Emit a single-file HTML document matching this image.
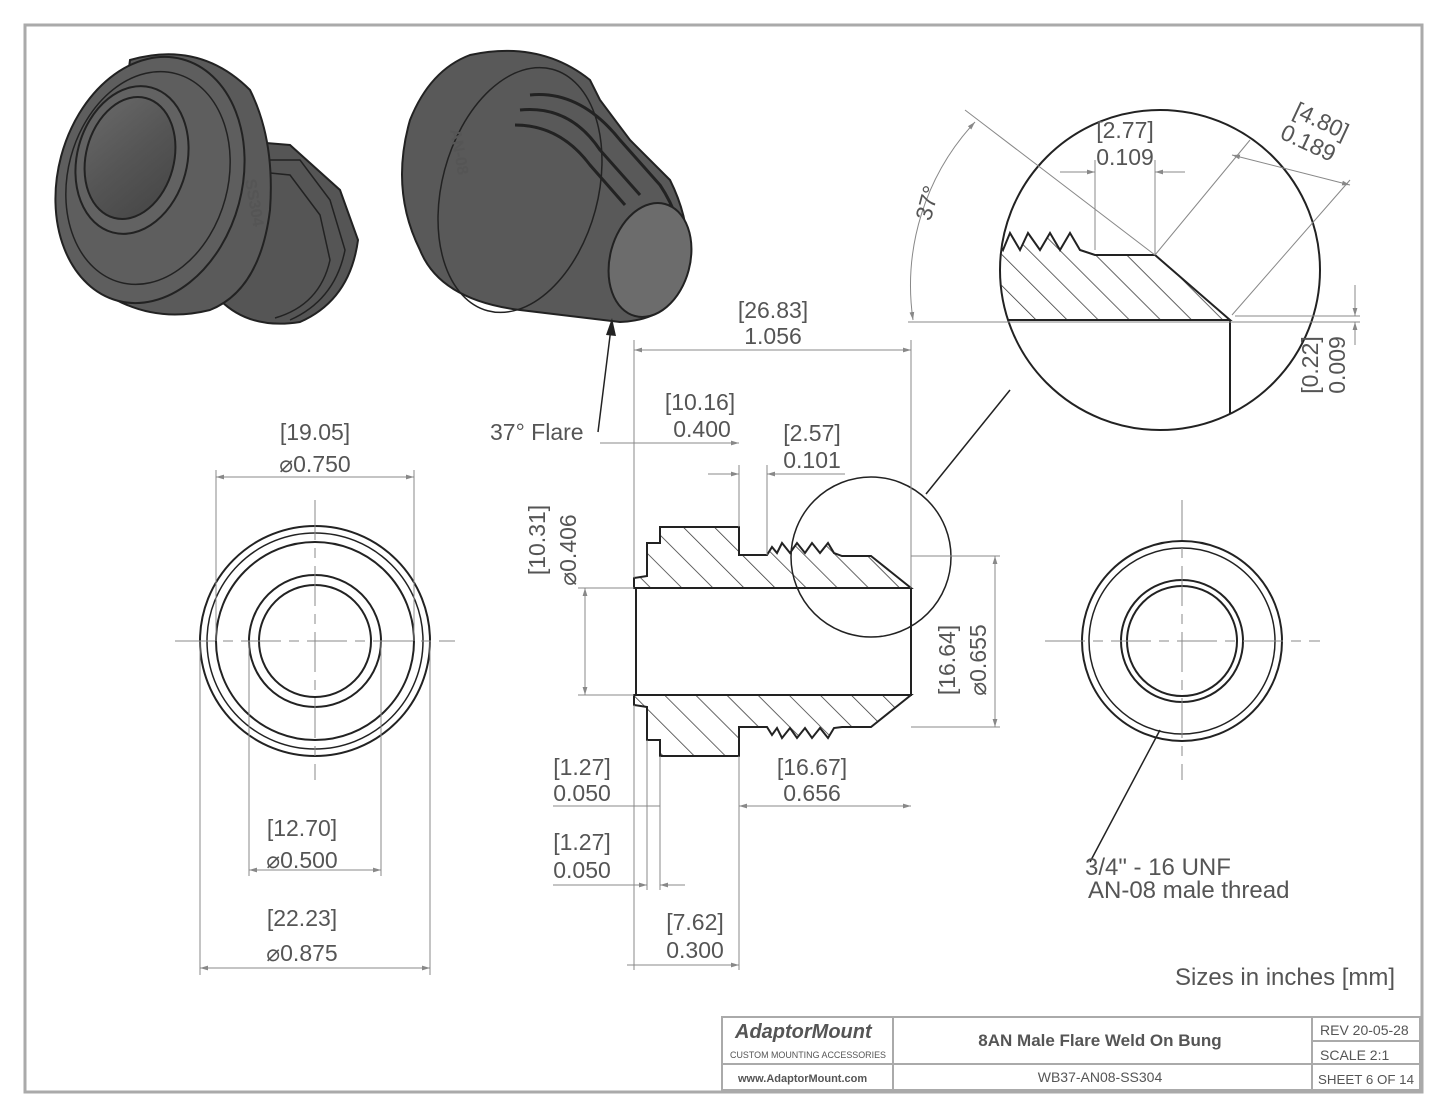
<!DOCTYPE html>
<html><head><meta charset="utf-8"><style>
body{margin:0;background:#fff}
svg{display:block}
text{font-family:"Liberation Sans",sans-serif;fill:#555}
.d{stroke:#888;stroke-width:1;fill:none}
.k{stroke:#222;stroke-width:2;fill:none}
.t{font-size:23px;text-anchor:middle}
</style></head><body>
<svg width="1445" height="1117" viewBox="0 0 1445 1117">
<defs>
<linearGradient id="g" x1="0" x2="1" y1="0" y2="1"><stop offset="0" stop-color="#6a6a6a"/><stop offset=".5" stop-color="#555"/><stop offset="1" stop-color="#444"/></linearGradient>
<marker id="a" viewBox="0 0 10 10" refX="10" refY="5" markerWidth="8" markerHeight="8" orient="auto-start-reverse"><path d="M0,2L10,5L0,8z" fill="#888"/></marker>
<pattern id="h" width="22" height="22" patternUnits="userSpaceOnUse" patternTransform="rotate(-45)"><line x1="0" y1="0" x2="0" y2="22" stroke="#333" stroke-width="1.5"/></pattern>
</defs>
<rect x="25" y="25" width="1397" height="1067" fill="none" stroke="#aaa" stroke-width="3"/>
<!-- 3D part left -->
<g stroke="#222" stroke-width="2">
<path d="M230,140 L290,145 L340,190 L358,240 Q350,300 300,322 Q250,330 220,300z" fill="#555"/>
<path d="M250,160 L300,160 L330,200 L345,250 Q335,300 290,320" fill="none" stroke-width="1.5"/>
<path d="M240,170 L290,175 L320,215 L330,260 Q320,305 275,318" fill="none" stroke-width="1.5"/>
<path d="M130,60 Q200,40 250,90 Q275,140 270,210 Q260,290 210,310 Q150,325 100,290 Z" fill="#5a5a5a"/>
<ellipse cx="150" cy="180" rx="92" ry="125" transform="rotate(15 150 180)" fill="#5e5e5e"/>
<ellipse cx="148" cy="178" rx="80" ry="108" transform="rotate(15 148 178)" fill="none" stroke-width="1.5"/>
<ellipse cx="132" cy="160" rx="55" ry="75" transform="rotate(15 132 160)" fill="#626262"/>
<ellipse cx="130" cy="158" rx="44" ry="62" transform="rotate(15 130 158)" fill="url(#g)"/>
</g>
<text x="245" y="180" font-size="16" font-weight="bold" fill="#111" transform="rotate(80 245 180)">SS304</text>
<!-- 3D part right -->
<g stroke="#222" stroke-width="2">
<path d="M470,55 Q540,40 590,80 L600,100 L630,140 L670,180 Q695,230 685,280 Q670,320 620,322 L520,310 Q440,300 420,250 Q390,190 410,120 Q430,70 470,55z" fill="#595959"/>
<ellipse cx="520" cy="190" rx="78" ry="125" transform="rotate(15 520 190)" fill="none" stroke-width="1.5"/>
<path d="M530,95 Q580,90 620,140 L660,185 Q690,230 680,280" fill="none" stroke-width="3"/>
<path d="M520,110 Q570,105 600,150 L640,195" fill="none" stroke-width="3"/>
<path d="M515,125 Q560,125 590,165 L625,205" fill="none" stroke-width="3"/>
<ellipse cx="650" cy="260" rx="40" ry="58" transform="rotate(15 650 260)" fill="#6c6c6c"/>
</g>
<text x="450" y="130" font-size="16" font-weight="bold" fill="#111" transform="rotate(80 450 130)">AN-08</text>
<!-- left view -->
<g class="k">
<circle cx="315" cy="641" r="115"/><circle cx="315" cy="641" r="99"/><circle cx="315" cy="641" r="108" stroke-width="1.5"/>
<circle cx="315" cy="641" r="66"/><circle cx="315" cy="641" r="56"/>
</g>
<g class="d">
<line x1="175" y1="641" x2="455" y2="641" stroke-dasharray="40 8 10 8"/><line x1="315" y1="500" x2="315" y2="780" stroke-dasharray="40 8 10 8"/>
<line x1="216" y1="470" x2="216" y2="641"/><line x1="414" y1="470" x2="414" y2="641"/>
<line x1="216" y1="477" x2="414" y2="477" marker-start="url(#a)" marker-end="url(#a)"/>
<line x1="249" y1="641" x2="249" y2="876"/><line x1="381" y1="641" x2="381" y2="876"/>
<line x1="249" y1="870" x2="381" y2="870" marker-start="url(#a)" marker-end="url(#a)"/>
<line x1="200" y1="641" x2="200" y2="975"/><line x1="430" y1="641" x2="430" y2="975"/>
<line x1="200" y1="968" x2="430" y2="968" marker-start="url(#a)" marker-end="url(#a)"/>
</g>
<text class="t" x="315" y="440">[19.05]</text><text class="t" x="315" y="472">⌀0.750</text>
<text class="t" x="302" y="836">[12.70]</text><text class="t" x="302" y="868">⌀0.500</text>
<text class="t" x="302" y="926">[22.23]</text><text class="t" x="302" y="961">⌀0.875</text>
<!-- right view -->
<g class="k">
<circle cx="1182" cy="641" r="100"/><circle cx="1182" cy="641" r="93" stroke-width="1.5"/>
<circle cx="1182" cy="641" r="61"/><circle cx="1182" cy="641" r="55"/>
</g>
<g class="d"><line x1="1045" y1="641" x2="1320" y2="641" stroke-dasharray="40 8 10 8"/><line x1="1182" y1="500" x2="1182" y2="780" stroke-dasharray="40 8 10 8"/></g>
<line x1="1090" y1="862" x2="1160" y2="730" stroke="#222" stroke-width="1.5"/>
<text x="1085" y="875" font-size="24" fill="#333">3/4" - 16 UNF</text>
<text x="1088" y="898" font-size="24" fill="#333">AN-08 male thread</text>
<text x="1175" y="985" font-size="24" fill="#333">Sizes in inches [mm]</text>
<!-- section -->
<path d="M634,588 L634,578 L647,576 L647,543 L660,543 L660,527 L739,527 L739,555 L767,555 L772,547 L777,553 L782,543 L790,553 L797,543 L805,553 L812,543 L820,553 L828,543 L834,553 L842,556 L871,556 L911,588 Z" fill="url(#h)" stroke="#222" stroke-width="2"/>
<path d="M634,695 L634,705 L647,707 L647,740 L660,740 L660,756 L739,756 L739,727 L767,727 L772,735 L777,728 L782,738 L790,728 L797,738 L805,728 L812,738 L820,728 L828,738 L834,728 L842,727 L871,727 L911,695 Z" fill="url(#h)" stroke="#222" stroke-width="2"/>
<rect x="636" y="588" width="275" height="107" fill="#fff" stroke="#222" stroke-width="2"/>
<circle cx="871" cy="557" r="80" fill="none" stroke="#222" stroke-width="1.5"/>
<line x1="926" y1="494" x2="1010" y2="390" stroke="#222" stroke-width="1.5"/>
<g class="d">
<line x1="634" y1="340" x2="634" y2="578"/><line x1="911" y1="340" x2="911" y2="588"/>
<line x1="634" y1="350" x2="911" y2="350" marker-start="url(#a)" marker-end="url(#a)"/>
<line x1="600" y1="443" x2="634" y2="443"/><line x1="634" y1="443" x2="739" y2="443" marker-end="url(#a)"/>
<line x1="739" y1="465" x2="739" y2="527"/><line x1="767" y1="465" x2="767" y2="555"/>
<line x1="708" y1="474" x2="739" y2="474" marker-end="url(#a)"/><line x1="767" y1="474" x2="845" y2="474" marker-start="url(#a)"/>
<line x1="578" y1="588" x2="634" y2="588"/><line x1="578" y1="695" x2="634" y2="695"/>
<line x1="585" y1="588" x2="585" y2="695" marker-start="url(#a)" marker-end="url(#a)"/>
<line x1="911" y1="556" x2="1000" y2="556"/><line x1="911" y1="727" x2="1000" y2="727"/>
<line x1="995" y1="556" x2="995" y2="727" marker-start="url(#a)" marker-end="url(#a)"/>
<line x1="634" y1="705" x2="634" y2="970"/><line x1="647" y1="740" x2="647" y2="890"/><line x1="660" y1="756" x2="660" y2="890"/>
<line x1="553" y1="806" x2="634" y2="806"/><line x1="634" y1="806" x2="660" y2="806"/>
<line x1="553" y1="885" x2="647" y2="885" marker-end="url(#a)"/><line x1="660" y1="885" x2="685" y2="885" marker-start="url(#a)"/>
<line x1="739" y1="806" x2="911" y2="806" marker-start="url(#a)" marker-end="url(#a)"/>
<line x1="627" y1="965" x2="634" y2="965" /><line x1="634" y1="965" x2="739" y2="965" marker-end="url(#a)"/>
<line x1="739" y1="756" x2="739" y2="970"/>
</g>
<text class="t" x="773" y="318">[26.83]</text><text class="t" x="773" y="344">1.056</text>
<text class="t" x="700" y="410">[10.16]</text><text class="t" x="702" y="437">0.400</text>
<text class="t" x="812" y="441">[2.57]</text><text class="t" x="812" y="468">0.101</text>
<text class="t" x="582" y="775">[1.27]</text><text class="t" x="582" y="801">0.050</text>
<text class="t" x="582" y="850">[1.27]</text><text class="t" x="582" y="878">0.050</text>
<text class="t" x="812" y="775">[16.67]</text><text class="t" x="812" y="801">0.656</text>
<text class="t" x="695" y="930">[7.62]</text><text class="t" x="695" y="958">0.300</text>
<text class="t" x="0" y="0" transform="translate(545,540) rotate(-90)">[10.31]</text>
<text class="t" x="0" y="0" transform="translate(576,550) rotate(-90)">⌀0.406</text>
<text class="t" x="0" y="0" transform="translate(955,660) rotate(-90)">[16.64]</text>
<text class="t" x="0" y="0" transform="translate(986,660) rotate(-90)">⌀0.655</text>
<line x1="598" y1="432" x2="612" y2="320" stroke="#222" stroke-width="1.5"/>
<path d="M612,318 L606,335 L616,336z" fill="#222"/>
<text x="490" y="440" font-size="23" fill="#333">37° Flare</text>
<!-- detail -->
<defs><clipPath id="c"><circle cx="1160" cy="270" r="160"/></clipPath></defs>
<circle cx="1160" cy="270" r="160" fill="#fff" stroke="#222" stroke-width="2"/>
<g clip-path="url(#c)">
<path d="M990,255 L995,238 L1003,250 L1010,233 L1020,250 L1028,233 L1040,250 L1050,233 L1060,250 L1070,233 L1080,250 L1095,255 L1155,255 L1230,320 L990,320 Z" fill="url(#h)" stroke="#222" stroke-width="2"/>
<line x1="1230" y1="320" x2="1230" y2="440" stroke="#222" stroke-width="2"/>
</g>
<g class="d">
<line x1="908" y1="322" x2="1360" y2="322"/><line x1="1235" y1="316" x2="1360" y2="316"/>
<line x1="1355" y1="285" x2="1355" y2="316" marker-end="url(#a)"/><line x1="1355" y1="322" x2="1355" y2="345" marker-start="url(#a)"/>
<line x1="1095" y1="160" x2="1095" y2="250"/><line x1="1155" y1="160" x2="1155" y2="255"/>
<line x1="1060" y1="172" x2="1095" y2="172" marker-end="url(#a)"/><line x1="1155" y1="172" x2="1185" y2="172" marker-start="url(#a)"/>
<line x1="1155" y1="255" x2="1250" y2="140"/><line x1="1232" y1="315" x2="1350" y2="180"/>
<line x1="1232" y1="155" x2="1350" y2="185" marker-start="url(#a)" marker-end="url(#a)"/>
<line x1="1155" y1="255" x2="965" y2="110"/>
<path d="M975,122 A240,240 0 0 0 913,320" marker-start="url(#a)" marker-end="url(#a)"/>
</g>
<text class="t" x="1125" y="138">[2.77]</text><text class="t" x="1125" y="165">0.109</text>
<text class="t" transform="translate(1318,128) rotate(25)">[4.80]</text>
<text class="t" transform="translate(1305,150) rotate(25)">0.189</text>
<text class="t" transform="translate(935,205) rotate(-75)">37°</text>
<text class="t" x="0" y="0" transform="translate(1318,365) rotate(-90)">[0.22]</text>
<text class="t" x="0" y="0" transform="translate(1345,365) rotate(-90)">0.009</text>
<!-- title block -->
<g stroke="#aaa" stroke-width="2" fill="none">
<rect x="722" y="1017" width="698" height="73"/>
<line x1="893" y1="1017" x2="893" y2="1090"/><line x1="1312" y1="1017" x2="1312" y2="1090"/>
<line x1="722" y1="1064" x2="1420" y2="1064"/><line x1="1312" y1="1041" x2="1420" y2="1041"/>
</g>
<text x="735" y="1038" font-size="20" font-weight="bold" font-style="italic" fill="#222">AdaptorMount</text>
<text x="730" y="1058" font-size="9" fill="#333" textLength="156" lengthAdjust="spacingAndGlyphs">CUSTOM MOUNTING ACCESSORIES</text>
<text x="738" y="1082" font-size="11" font-weight="bold" fill="#222">www.AdaptorMount.com</text>
<text x="1100" y="1046" font-size="17" font-weight="bold" fill="#222" text-anchor="middle">8AN Male Flare Weld On Bung</text>
<text x="1100" y="1082" font-size="14" fill="#333" text-anchor="middle">WB37-AN08-SS304</text>
<text x="1320" y="1035" font-size="14" fill="#333">REV 20-05-28</text>
<text x="1320" y="1060" font-size="14" fill="#333">SCALE 2:1</text>
<text x="1318" y="1084" font-size="13" fill="#333" textLength="96" lengthAdjust="spacingAndGlyphs">SHEET 6 OF 14</text>
</svg>
</body></html>
